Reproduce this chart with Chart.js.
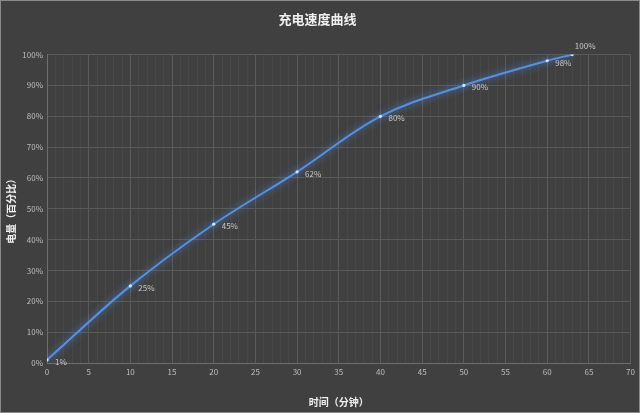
<!DOCTYPE html>
<html>
<head>
<meta charset="utf-8">
<script src="https://cdn.jsdelivr.net/npm/chart.js@4/dist/chart.umd.min.js"></script>
<style>
  html, body { margin: 0; padding: 0; background: #ffffff; }
  #wrap { width: 638px; height: 411px; border: 1px solid #8a8a8a; background: #404040; }
</style>
</head>
<body>
<div id="wrap"><canvas id="chart" width="638" height="411"></canvas></div>
<script>
// charging curve
const minutes = [0, 10, 20, 30, 40, 50, 60, 63];
const charge = [1, 25, 45, 62, 80, 90, 98, 100];
const pointLabels = ["1%", "25%", "45%", "62%", "80%", "90%", "98%", "100%"];

const cjk = '"Noto Sans CJK SC", "Microsoft YaHei", sans-serif';

// soft blue glow behind the line
const glowPlugin = {
    id: "glow",
    beforeDatasetDraw(chart) {
        const c = chart.ctx;
        c.save();
        c.shadowColor = "rgba(80,150,255,0.8)";
        c.shadowBlur = 7;
    },
    afterDatasetDraw(chart) {
        chart.ctx.restore();
    }
};

// value labels next to each point
const labelPlugin = {
    id: "pointLabels",
    afterDatasetsDraw(chart) {
        const c = chart.ctx;
        const meta = chart.getDatasetMeta(0);
        c.save();
        c.font = "8px " + cjk;
        c.fillStyle = "#c8c8c8";
        c.textBaseline = "middle";
        meta.data.forEach((pt, i) => {
            const last = i === meta.data.length - 1;
            if (last) {
                c.textAlign = "center";
                c.fillText(pointLabels[i], pt.x + 13, pt.y - 9);
            } else {
                c.textAlign = "left";
                c.fillText(pointLabels[i], pt.x + 8, pt.y + 2);
            }
        });
        c.restore();
    }
};

const ctx = document.getElementById("chart").getContext("2d");
new Chart(ctx, {
    type: "line",
    data: {
        datasets: [{
            data: minutes.map((m, i) => ({ x: m, y: charge[i] })),
            borderColor: "#5790e0",
            borderWidth: 2,
            tension: 0.35,
            pointRadius: 1.6,
            pointBackgroundColor: "#d4e4ff",
            pointBorderWidth: 0,
            fill: false
        }]
    },
    options: {
        responsive: false,
        animation: false,
        layout: { padding: { left: 0, right: 5, top: 0, bottom: 0 } },
        plugins: {
            legend: { display: false },
            tooltip: { enabled: false },
            title: {
                display: true,
                text: "充电速度曲线",
                color: "#f0f0f0",
                font: { family: cjk, size: 13, weight: "bold" },
                padding: { top: 10, bottom: 28 }
            }
        },
        scales: {
            x: {
                type: "linear",
                min: 0,
                max: 70,
                ticks: {
                    stepSize: 1,
                    autoSkip: false,
                    maxRotation: 0,
                    color: "#bdbdbd",
                    font: { family: cjk, size: 8 },
                    padding: 4,
                    callback: v => (v % 5 === 0 ? v : "")
                },
                grid: {
                    color: c => (c.tick && c.tick.value % 5 === 0 ? "#5a5a5a" : "#484848"),
                    lineWidth: 1,
                    drawTicks: false
                },
                border: { color: "#6e6e6e" },
                title: {
                    display: true,
                    text: "时间（分钟）",
                    color: "#f0f0f0",
                    font: { family: cjk, size: 10, weight: "bold" },
                    padding: { top: 6 }
                },
                afterFit: s => { s.height = 49; }
            },
            y: {
                min: 0,
                max: 100,
                ticks: {
                    stepSize: 10,
                    color: "#bdbdbd",
                    font: { family: cjk, size: 8 },
                    padding: 4,
                    callback: v => v + "%"
                },
                grid: { color: "#5a5a5a", drawTicks: false },
                border: { color: "#6e6e6e" },
                title: {
                    display: true,
                    text: "电量（百分比）",
                    color: "#f0f0f0",
                    font: { family: cjk, size: 10, weight: "bold" },
                    padding: { bottom: 4 }
                },
                afterFit: s => { s.width = 46; }
            }
        }
    },
    plugins: [glowPlugin, labelPlugin]
});
</script>
</body>
</html>
